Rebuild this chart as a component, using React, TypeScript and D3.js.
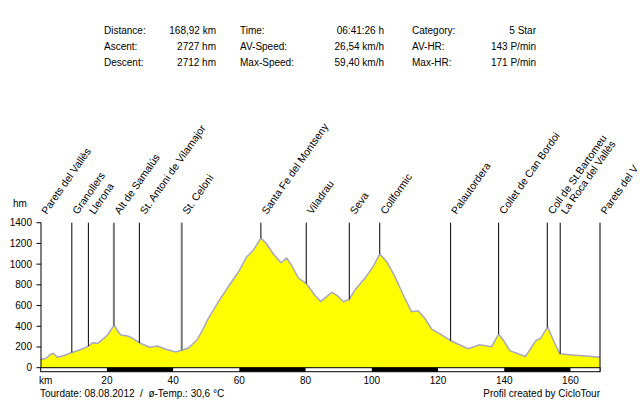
import React from "react";
import * as d3 from "d3";

const profileKm = [0, 1.6, 3.1, 3.8, 5.1, 6.6, 9.2, 11.7, 14.2, 15.7, 17.2, 18.7, 20.2, 21.2, 22.2, 23.2, 24.2, 26.3, 27.8, 29.8, 32.8, 35.3, 37.8, 40.7, 42.6, 44.6, 47.1, 48.6, 50.6, 53.6, 56.6, 59.7, 62.2, 64.2, 66.5, 68.2, 70.2, 72.6, 74.3, 75.8, 77.8, 80.3, 82.8, 84.6, 87.9, 89.4, 91.4, 93.2, 94.9, 97.9, 100.4, 102.4, 104.5, 107, 109.5, 112, 114, 116, 118.1, 121.1, 123.9, 126.6, 129.1, 132.6, 136.2, 138.3, 139.7, 141.7, 146.4, 149.5, 151, 153.1, 154.8, 156.8, 161.5, 165.5, 168.92];
const profileElev = [80, 90, 130, 139, 100, 113, 145, 171, 203, 241, 235, 274, 316, 364, 412, 357, 316, 306, 284, 241, 197, 210, 178, 152, 168, 190, 264, 345, 473, 634, 779, 924, 1069, 1133, 1252, 1197, 1101, 1014, 1059, 989, 866, 811, 700, 640, 728, 702, 637, 660, 750, 863, 975, 1098, 1023, 879, 702, 541, 550, 477, 371, 316, 260, 219, 183, 222, 203, 325, 267, 164, 108, 260, 284, 395, 267, 135, 120, 110, 100];

const waypointNames = ["Parets del Vallès", "Granollers", "Llerona", "Alt de Samalús", "St. Antoni de Vilamajor", "St. Celoni", "Santa Fe del Montseny", "Viladrau", "Seva", "Collformic", "Palautordera", "Collet de Can Bordoi", "Coll de St.Bartomeu", "La Roca del Vallès", "Parets del V"];
const waypointKm = [0, 9.4, 14.4, 22.1, 29.8, 42.6, 66.5, 80.2, 93.2, 102.4, 123.8, 138.3, 153.0, 156.9, 168.92];
const waypointKind = ["town", "town", "town", "pass", "town", "pass", "town", "town", "town", "town", "town", "town", "town", "town", "town"];

const yTicks = [0, 200, 400, 600, 800, 1000, 1200, 1400];
const xTicks = [20, 40, 60, 80, 100, 120, 140, 160];
const totalKm = 168.92;

const statLabels = [
  ["Distance:", "Ascent:", "Descent:"],
  ["Time:", "AV-Speed:", "Max-Speed:"],
  ["Category:", "AV-HR:", "Max-HR:"],
];
const statValues = [
  ["168,92 km", "2727 hm", "2712 hm"],
  ["06:41:26 h", "26,54 km/h", "59,40 km/h"],
  ["5 Star", "143 P/min", "171 P/min"],
];
const footerLeft = "Tourdate: 08.08.2012  /  ø-Temp.: 30,6 °C";
const footerRight = "Profil created by CicloTour";

const W = 640;
const H = 400;
const FONT = "'Liberation Sans', Arial, sans-serif";

export default function App() {
  const x = d3.scaleLinear().domain([0, totalKm]).range([40.7, 600]);
  const y = d3.scaleLinear().domain([0, 1400]).range([367.7, 222.7]);
  const pts = profileKm.map((k, i) => ({ k, e: profileElev[i] }));
  const area = d3.area<{ k: number; e: number }>().x(d => x(d.k)).y0(y(0)).y1(d => y(d.e));
  const line = d3.line<{ k: number; e: number }>().x(d => x(d.k)).y(d => y(d.e));
  const bis = d3.bisector<{ k: number; e: number }, number>(d => d.k).left;
  const elevAt = (k: number) => {
    const i = Math.max(1, Math.min(pts.length - 1, bis(pts, k)));
    const a = pts[i - 1], b = pts[i];
    const t = (k - a.k) / (b.k - a.k);
    return a.e + (b.e - a.e) * t;
  };
  const colLabelX = [104, 240, 412];
  const colValueX = [216, 384, 536];
  const rowY = [34, 50, 66];
  const segs = d3.range(0, 8).map(i => i * 20);
  const barTop = 367.7;
  const barH = 4;

  return (
    <svg width={W} height={H} style={{ position: "fixed", left: 0, top: 0, background: "#fff" }} fontFamily={FONT}>
      <rect x={0} y={0} width={W} height={H} fill="#fff" />
      {statLabels.map((col, ci) =>
        col.map((lab, ri) => (
          <g key={`s${ci}${ri}`}>
            <text x={colLabelX[ci]} y={rowY[ri]} fontSize={10} fill="#000">{lab}</text>
            <text x={colValueX[ci]} y={rowY[ri]} fontSize={10} fill="#000" textAnchor="end">{statValues[ci][ri]}</text>
          </g>
        ))
      )}
      <text x={13} y={207} fontSize={10}>hm</text>
      <path d={area(pts) || ""} fill="#ffff00" />
      <path d={line(pts) || ""} fill="none" stroke="#a8a8bc" strokeWidth={1.5} />
      {waypointKm.map((k, i) => {
        const xx = x(k);
        const pass = waypointKind[i] === "pass";
        return (
          <g key={`w${i}`}>
            {i > 0 && i < waypointKm.length - 1 && (
              <line x1={xx} x2={xx} y1={y(1400)} y2={y(elevAt(k))} stroke={pass ? "#777" : "#000"} strokeWidth={pass ? 2 : 1} />
            )}
            <text transform={`translate(${xx + 6},215) rotate(-55)`} fontSize={10.5} fill="#000">{waypointNames[i]}</text>
          </g>
        );
      })}
      <line x1={x(totalKm)} x2={x(totalKm)} y1={y(1400)} y2={barTop + barH} stroke="#000" strokeWidth={1} />
      <line x1={41} x2={41} y1={y(1400)} y2={y(0)} stroke="#000" strokeWidth={1} />
      {yTicks.map(t => (
        <g key={`y${t}`}>
          <line x1={36.5} x2={41} y1={y(t)} y2={y(t)} stroke="#000" />
          <text x={32} y={y(t) + 3.5} fontSize={10} textAnchor="end">{t}</text>
        </g>
      ))}
      <rect x={x(0)} y={barTop} width={x(totalKm) - x(0)} height={barH} fill="#fff" stroke="#000" strokeWidth={1} />
      {segs.filter((s, i) => i % 2 === 1).map(s => (
        <rect key={`b${s}`} x={x(s)} y={barTop} width={x(Math.min(s + 20, totalKm)) - x(s)} height={barH} fill="#000" />
      ))}
      <text x={39} y={384} fontSize={10}>km</text>
      {xTicks.map(t => (
        <text key={`x${t}`} x={x(t)} y={384} fontSize={10} textAnchor="middle">{t}</text>
      ))}
      <text x={40} y={397} fontSize={10} style={{ whiteSpace: "pre" }}>{footerLeft}</text>
      <text x={600} y={397} fontSize={10} textAnchor="end">{footerRight}</text>
    </svg>
  );
}
